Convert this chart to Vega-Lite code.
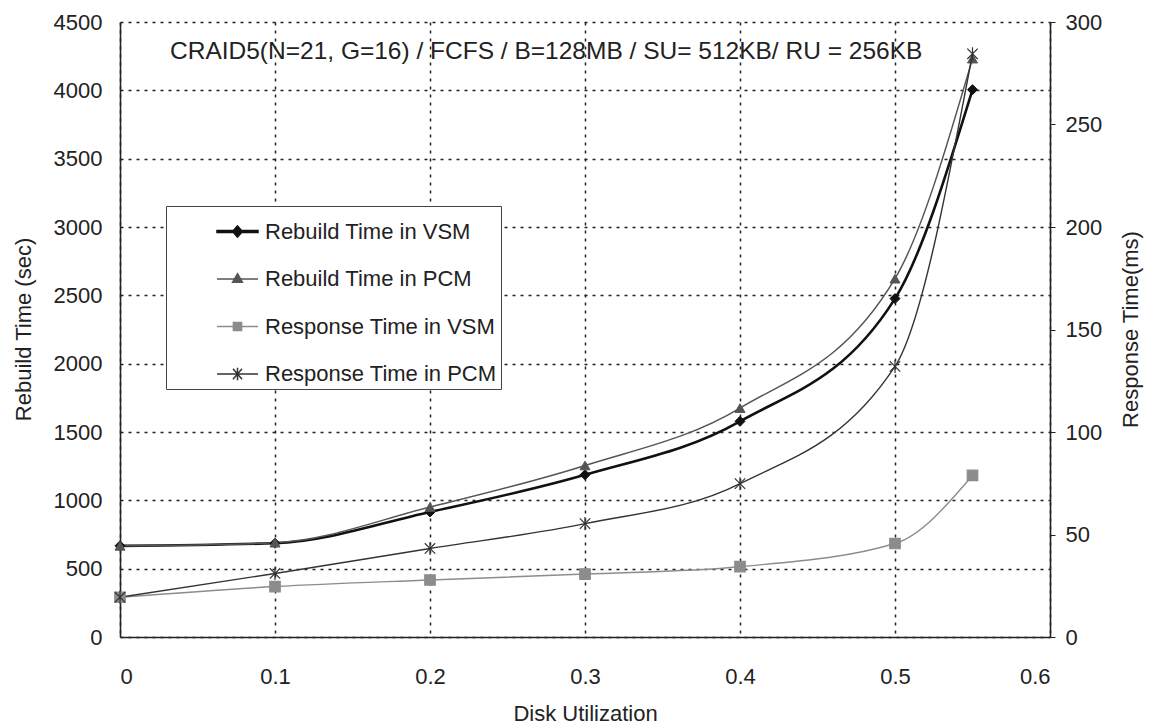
{
  "$schema": "https://vega.github.io/schema/vega-lite/v6.json",
  "width": 930,
  "height": 615,
  "autosize": {"type": "none"},
  "padding": {"left": 120, "top": 22, "right": 106, "bottom": 89},
  "background": "white",
  "config": {
    "view": {"stroke": null},
    "font": "Liberation Sans",
    "axis": {
      "labelFont": "Liberation Sans",
      "labelFontSize": 22,
      "labelColor": "#222",
      "titleFont": "Liberation Sans",
      "titleFontSize": 22,
      "titleFontWeight": "normal",
      "titleColor": "#222",
      "domainColor": "#222",
      "domainWidth": 1.6,
      "gridColor": "#222",
      "gridDash": [3, 5],
      "gridWidth": 1.5,
      "gridOpacity": 1,
      "tickColor": "#222"
    }
  },
  "title": {
    "text": "CRAID5(N=21, G=16) /  FCFS / B=128MB / SU= 512KB/ RU = 256KB",
    "anchor": "start",
    "frame": "group",
    "dx": 50,
    "offset": -53,
    "font": "Liberation Sans",
    "fontSize": 24.5,
    "fontWeight": "normal",
    "color": "#222"
  },
  "data": {
    "values": [
      {"u": 0, "series": "Rebuild Time in VSM", "measure": "rebuild", "v": 667},
      {"u": 0.1, "series": "Rebuild Time in VSM", "measure": "rebuild", "v": 686},
      {"u": 0.2, "series": "Rebuild Time in VSM", "measure": "rebuild", "v": 915},
      {"u": 0.3, "series": "Rebuild Time in VSM", "measure": "rebuild", "v": 1187},
      {"u": 0.4, "series": "Rebuild Time in VSM", "measure": "rebuild", "v": 1578},
      {"u": 0.5, "series": "Rebuild Time in VSM", "measure": "rebuild", "v": 2476},
      {"u": 0.55, "series": "Rebuild Time in VSM", "measure": "rebuild", "v": 4005},
      {"u": 0, "series": "Rebuild Time in PCM", "measure": "rebuild", "v": 667},
      {"u": 0.1, "series": "Rebuild Time in PCM", "measure": "rebuild", "v": 690},
      {"u": 0.2, "series": "Rebuild Time in PCM", "measure": "rebuild", "v": 951},
      {"u": 0.3, "series": "Rebuild Time in PCM", "measure": "rebuild", "v": 1255},
      {"u": 0.4, "series": "Rebuild Time in PCM", "measure": "rebuild", "v": 1675},
      {"u": 0.5, "series": "Rebuild Time in PCM", "measure": "rebuild", "v": 2622},
      {"u": 0.55, "series": "Rebuild Time in PCM", "measure": "rebuild", "v": 4232},
      {"u": 0, "series": "Response Time in VSM", "measure": "response", "v": 19.4},
      {"u": 0.1, "series": "Response Time in VSM", "measure": "response", "v": 24.6},
      {"u": 0.2, "series": "Response Time in VSM", "measure": "response", "v": 27.8},
      {"u": 0.3, "series": "Response Time in VSM", "measure": "response", "v": 30.7},
      {"u": 0.4, "series": "Response Time in VSM", "measure": "response", "v": 34.3},
      {"u": 0.5, "series": "Response Time in VSM", "measure": "response", "v": 45.6},
      {"u": 0.55, "series": "Response Time in VSM", "measure": "response", "v": 78.8},
      {"u": 0, "series": "Response Time in PCM", "measure": "response", "v": 19.4},
      {"u": 0.1, "series": "Response Time in PCM", "measure": "response", "v": 31},
      {"u": 0.2, "series": "Response Time in PCM", "measure": "response", "v": 43.2},
      {"u": 0.3, "series": "Response Time in PCM", "measure": "response", "v": 55.3},
      {"u": 0.4, "series": "Response Time in PCM", "measure": "response", "v": 74.8},
      {"u": 0.5, "series": "Response Time in PCM", "measure": "response", "v": 132},
      {"u": 0.55, "series": "Response Time in PCM", "measure": "response", "v": 284.5}
    ]
  },
  "encoding": {
    "x": {
      "field": "u",
      "type": "quantitative",
      "scale": {"domain": [0, 0.6], "nice": false, "zero": false},
      "axis": {
        "values": [0, 0.1, 0.2, 0.3, 0.4, 0.5, 0.6],
        "format": "~g",
        "title": "Disk Utilization",
        "grid": true,
        "ticks": false,
        "labelPadding": 29,
        "titleX": 465,
        "titleY": 76,
        "titleBaseline": "middle",
        "titleAlign": "center"
      }
    }
  },
  "layer": [
    {
      "transform": [{"filter": {"field": "measure", "equal": "rebuild"}}],
      "encoding": {
        "y": {
          "field": "v",
          "type": "quantitative",
          "scale": {"domain": [0, 4500], "nice": false},
          "axis": {
            "orient": "left",
            "values": [0, 500, 1000, 1500, 2000, 2500, 3000, 3500, 4000, 4500],
            "format": "d",
            "title": "Rebuild Time (sec)",
            "grid": true,
            "ticks": false,
            "labelPadding": 18,
            "titleAngle": 270,
            "titleX": -97,
            "titleY": 307,
            "titleBaseline": "middle",
            "titleAlign": "center"
          }
        }
      },
      "layer": [
        {
          "mark": {"type": "line", "interpolate": "monotone"},
          "encoding": {
            "color": {"field": "series", "type": "nominal", "scale": {"domain": ["Rebuild Time in VSM", "Rebuild Time in PCM", "Response Time in VSM", "Response Time in PCM"], "range": ["#111111", "#555555", "#8c8c8c", "#333333"]}, "legend": null},
            "strokeWidth": {"condition": {"test": "datum.series === 'Rebuild Time in VSM'", "value": 2.6}, "value": 1.5}
          }
        },
        {
          "mark": {"type": "point", "filled": true, "opacity": 1, "strokeWidth": 1},
          "encoding": {
            "color": {"field": "series", "type": "nominal", "scale": {"domain": ["Rebuild Time in VSM", "Rebuild Time in PCM", "Response Time in VSM", "Response Time in PCM"], "range": ["#111111", "#555555", "#8c8c8c", "#333333"]}, "legend": null},
            "shape": {"field": "series", "type": "nominal", "scale": {"domain": ["Rebuild Time in VSM", "Rebuild Time in PCM", "Response Time in VSM", "Response Time in PCM"], "range": ["diamond", "triangle-up", "square", "M-0.8,-0.8L0.8,0.8M-0.8,0.8L0.8,-0.8M0,-1V1"]}, "legend": null},
            "stroke": {"field": "series", "type": "nominal", "scale": {"domain": ["Rebuild Time in VSM", "Rebuild Time in PCM", "Response Time in VSM", "Response Time in PCM"], "range": ["#111111", "#555555", "#8c8c8c", "#333333"]}, "legend": null},
            "size": {"condition": {"test": "datum.series === 'Response Time in PCM'", "value": 170}, "value": 100}
          }
        }
      ]
    },
    {
      "transform": [{"filter": {"field": "measure", "equal": "response"}}],
      "encoding": {
        "y": {
          "field": "v",
          "type": "quantitative",
          "scale": {"domain": [0, 300], "nice": false},
          "axis": {
            "orient": "right",
            "values": [0, 50, 100, 150, 200, 250, 300],
            "format": "d",
            "title": "Response Time(ms)",
            "grid": false,
            "ticks": true,
            "tickSize": 5,
            "labelPadding": 10,
            "titleAngle": 270,
            "titleX": 80,
            "titleY": 307,
            "titleBaseline": "middle",
            "titleAlign": "center"
          }
        }
      },
      "layer": [
        {
          "mark": {"type": "line", "interpolate": "monotone"},
          "encoding": {
            "color": {"field": "series", "type": "nominal", "scale": {"domain": ["Rebuild Time in VSM", "Rebuild Time in PCM", "Response Time in VSM", "Response Time in PCM"], "range": ["#111111", "#555555", "#8c8c8c", "#333333"]}, "legend": null},
            "strokeWidth": {"condition": {"test": "datum.series === 'Rebuild Time in VSM'", "value": 2.6}, "value": 1.4}
          }
        },
        {
          "mark": {"type": "point", "filled": true, "opacity": 1, "strokeWidth": 1.2},
          "encoding": {
            "color": {"field": "series", "type": "nominal", "scale": {"domain": ["Rebuild Time in VSM", "Rebuild Time in PCM", "Response Time in VSM", "Response Time in PCM"], "range": ["#111111", "#555555", "#8c8c8c", "#333333"]}, "legend": null},
            "shape": {"field": "series", "type": "nominal", "scale": {"domain": ["Rebuild Time in VSM", "Rebuild Time in PCM", "Response Time in VSM", "Response Time in PCM"], "range": ["diamond", "triangle-up", "square", "M-0.8,-0.8L0.8,0.8M-0.8,0.8L0.8,-0.8M0,-1V1"]}, "legend": null},
            "stroke": {"field": "series", "type": "nominal", "scale": {"domain": ["Rebuild Time in VSM", "Rebuild Time in PCM", "Response Time in VSM", "Response Time in PCM"], "range": ["#111111", "#555555", "#8c8c8c", "#333333"]}, "legend": null},
            "size": {"condition": {"test": "datum.series === 'Response Time in PCM'", "value": 170}, "value": 110}
          }
        }
      ]
    },
    {
      "transform": [{"filter": "datum.v < 0"}],
      "mark": {"type": "point", "filled": true, "opacity": 1},
      "encoding": {
        "color": {
          "field": "series", "type": "nominal",
          "scale": {"domain": ["Rebuild Time in VSM", "Rebuild Time in PCM", "Response Time in VSM", "Response Time in PCM"], "range": ["#111111", "#555555", "#8c8c8c", "#333333"]},
          "legend": {"title": null, "orient": "none", "legendX": 46, "legendY": 184, "padding": 4, "rowPadding": 14.5, "symbolSize": 1681, "symbolStrokeWidth": 1.5, "symbolOffset": 46, "labelOffset": 6, "labelFont": "Liberation Sans", "labelFontSize": 22, "labelColor": "#222", "labelLimit": 400, "fillColor": "white", "strokeColor": "#444"}
        },
        "stroke": {
          "field": "series", "type": "nominal",
          "scale": {"domain": ["Rebuild Time in VSM", "Rebuild Time in PCM", "Response Time in VSM", "Response Time in PCM"], "range": ["#111111", "#555555", "#8c8c8c", "#333333"]},
          "legend": {"title": null, "orient": "none", "legendX": 46, "legendY": 184, "padding": 4, "rowPadding": 14.5, "symbolSize": 1681, "symbolStrokeWidth": 1.5, "symbolOffset": 46, "labelOffset": 6, "labelFont": "Liberation Sans", "labelFontSize": 22, "labelColor": "#222", "labelLimit": 400, "fillColor": "white", "strokeColor": "#444"}
        },
        "shape": {
          "field": "series", "type": "nominal",
          "scale": {"domain": ["Rebuild Time in VSM", "Rebuild Time in PCM", "Response Time in VSM", "Response Time in PCM"], "range": ["M-1,-0.05H1V0.05H-1ZM0,-0.27L0.24,0L0,0.27L-0.24,0Z", "M-1,0H1M0,-0.26L0.24,0.16L-0.24,0.16Z", "M-1,0H1M-0.2,-0.2H0.2V0.2H-0.2Z", "M-1,0H1M-0.22,-0.26L0.22,0.26M-0.22,0.26L0.22,-0.26M0,-0.3V0.3"]},
          "legend": {"title": null, "orient": "none", "legendX": 46, "legendY": 184, "padding": 4, "rowPadding": 14.5, "symbolSize": 1681, "symbolStrokeWidth": 1.5, "symbolOffset": 46, "labelOffset": 6, "labelFont": "Liberation Sans", "labelFontSize": 22, "labelColor": "#222", "labelLimit": 400, "fillColor": "white", "strokeColor": "#444"}
        }
      }
    }
  ],
  "resolve": {"scale": {"y": "independent", "shape": "independent", "color": "independent", "stroke": "independent"}}
}
